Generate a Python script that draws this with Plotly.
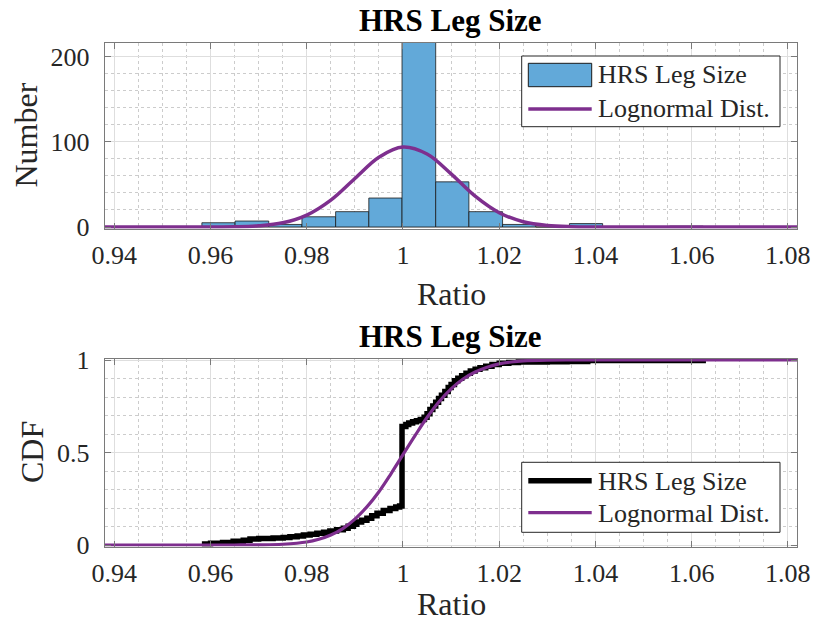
import plotly.graph_objects as go

# ---------------- data ----------------
bin_edges = [0.9582, 0.9651, 0.9721, 0.9790, 0.9860, 0.9929, 0.9998, 1.0068,
             1.0137, 1.0207, 1.0276, 1.0346, 1.0415, 1.0485, 1.0554, 1.0624]
bin_counts = [5, 7, 3, 12, 18, 34, 225, 53, 18, 3, 0, 4, 0, 0, 1]

pdf_x = [0.938, 0.945, 0.950, 0.955, 0.960, 0.965, 0.970, 0.975, 0.980, 0.985,
         0.990, 0.995, 1.000, 1.005, 1.010, 1.015, 1.020, 1.025, 1.030, 1.035,
         1.040, 1.045, 1.050, 1.060, 1.070, 1.0819]
pdf_y = [0, 0, 0, 0, 0.05, 0.3, 1.4, 4.9, 14.0, 31.6,
         57.0, 82.0, 93.9, 85.7, 62.4, 36.2, 16.8, 6.2, 1.8, 0.4,
         0.1, 0, 0, 0, 0, 0]

ecdf_x = [0.9582, 0.9600, 0.9625, 0.9647, 0.9668, 0.9682, 0.9700, 0.9730, 0.9751,
          0.9765, 0.9780, 0.9793, 0.9807, 0.9821, 0.9835, 0.9848, 0.9862, 0.9876,
          0.9886, 0.9897, 0.9904, 0.9914, 0.9925, 0.9935, 0.9946, 0.9959, 0.9973,
          0.9985, 0.9993, 0.9998, 1.0006, 1.0012, 1.0020, 1.0028, 1.0036, 1.0044,
          1.0050, 1.0056, 1.0062, 1.0068, 1.0074, 1.0080, 1.0087, 1.0094, 1.0100,
          1.0107, 1.0114, 1.0122, 1.0131, 1.0140, 1.0150, 1.0160, 1.0172, 1.0185,
          1.0200, 1.0220, 1.0240, 1.0300, 1.0341, 1.0384, 1.0624]
ecdf_y = [0.005, 0.010, 0.014, 0.020, 0.026, 0.032, 0.035, 0.038, 0.041,
          0.045, 0.049, 0.054, 0.058, 0.063, 0.069, 0.076, 0.083, 0.091,
          0.101, 0.112, 0.124, 0.134, 0.145, 0.158, 0.171, 0.186, 0.197,
          0.205, 0.211, 0.640, 0.652, 0.660, 0.666, 0.671, 0.678, 0.690,
          0.710, 0.732, 0.752, 0.772, 0.792, 0.810, 0.830, 0.852, 0.868,
          0.888, 0.902, 0.915, 0.928, 0.940, 0.950, 0.958, 0.966, 0.975,
          0.983, 0.987, 0.989, 0.990, 0.992, 0.997, 1.000]

lcdf_x = [0.938, 0.950, 0.960, 0.965, 0.970, 0.975, 0.980, 0.9825, 0.985, 0.9875,
          0.990, 0.9925, 0.995, 0.9975, 1.000, 1.0025, 1.005, 1.0075, 1.010,
          1.0125, 1.015, 1.0175, 1.020, 1.0225, 1.025, 1.030, 1.035, 1.045, 1.0819]
lcdf_y = [0, 0, 0, 0.0001, 0.0007, 0.004, 0.016, 0.031, 0.054, 0.089,
          0.140, 0.206, 0.288, 0.385, 0.488, 0.591, 0.689, 0.774, 0.844,
          0.897, 0.935, 0.961, 0.979, 0.989, 0.995, 0.999, 1.0, 1.0, 1.0]

x_tick_vals = [0.94, 0.96, 0.98, 1.0, 1.02, 1.04, 1.06, 1.08]
x_tick_text = ['0.94', '0.96', '0.98', '1', '1.02', '1.04', '1.06', '1.08']
y1_tick_vals = [0, 100, 200]
y1_tick_text = ['0', '100', '200']
y2_tick_vals = [0, 0.5, 1]
y2_tick_text = ['0', '0.5', '1']

title_text = 'HRS Leg Size'
series_names = ['HRS Leg Size', 'Lognormal Dist.']

# ---------------- styling ----------------
W, H = 814, 627
FONT = 'Liberation Serif'
BAR = '#62a9d9'
PURPLE = '#7E2F8E'
AXC = '#7a7a7a'
TXT = '#262626'


def px(x):
    return x / W


def py(y):
    return 1 - y / H


fig = go.Figure()

widths = [bin_edges[i + 1] - bin_edges[i] for i in range(len(bin_counts))]
fig.add_trace(go.Bar(x=bin_edges[:-1], y=bin_counts, width=widths, offset=0,
                     marker=dict(color=BAR, line=dict(color='#1a1a1a', width=0.8)),
                     name=series_names[0], showlegend=False, xaxis='x', yaxis='y'))
fig.add_trace(go.Scatter(x=pdf_x, y=pdf_y, mode='lines',
                         line=dict(color=PURPLE, width=3.5, shape='spline', smoothing=1.0),
                         name=series_names[1], showlegend=False, xaxis='x', yaxis='y'))
fig.add_trace(go.Scatter(x=ecdf_x, y=ecdf_y, mode='lines',
                         line=dict(color='black', width=5.5, shape='hv'),
                         name=series_names[0], showlegend=False, xaxis='x2', yaxis='y2'))
fig.add_trace(go.Scatter(x=lcdf_x, y=lcdf_y, mode='lines',
                         line=dict(color=PURPLE, width=3.2, shape='spline', smoothing=1.0),
                         name=series_names[1], showlegend=False, xaxis='x2', yaxis='y2'))

tickfont = dict(family=FONT, size=26, color=TXT)


def xaxis_cfg(anchor):
    return dict(range=[0.938, 1.0819], domain=[px(104.7), px(797)], anchor=anchor,
                tickmode='array', tickvals=x_tick_vals, ticktext=x_tick_text,
                ticks='inside', ticklen=6, tickcolor=AXC, tickwidth=1,
                showline=True, linecolor=AXC, linewidth=1, mirror='allticks',
                showgrid=True, gridcolor='#dedede', gridwidth=1, zeroline=False,
                minor=dict(tick0=0.94, dtick=0.005, showgrid=True, gridcolor='#cccccc',
                           griddash='dot', gridwidth=1),
                tickfont=tickfont, ticklabelstandoff=3, automargin=False)


def yaxis_cfg(anchor, rng, dom, vals, text, mdt):
    return dict(range=rng, domain=dom, anchor=anchor,
                tickmode='array', tickvals=vals, ticktext=text,
                ticks='inside', ticklen=6, tickcolor=AXC, tickwidth=1,
                showline=True, linecolor=AXC, linewidth=1, mirror='allticks',
                showgrid=True, gridcolor='#dedede', gridwidth=1, zeroline=False,
                minor=dict(tick0=0, dtick=mdt, showgrid=True, gridcolor='#cccccc',
                           griddash='dot', gridwidth=1),
                tickfont=tickfont, ticklabelstandoff=9, automargin=False)


fig.update_layout(
    width=W, height=H, autosize=False,
    margin=dict(l=0, r=0, t=0, b=0, pad=0, autoexpand=False),
    paper_bgcolor='white', plot_bgcolor='white',
    showlegend=False,
    xaxis=xaxis_cfg('y'),
    yaxis=yaxis_cfg('x', [-1.76, 216], [py(228.5), py(43)], y1_tick_vals, y1_tick_text, 20),
    xaxis2=xaxis_cfg('y2'),
    yaxis2=yaxis_cfg('x2', [-0.0081, 1.0081], [py(546.5), py(358.5)], y2_tick_vals, y2_tick_text, 0.1),
)

ann = []


def text(x, y, s, size, xanchor='center', angle=0, bold=False):
    ann.append(dict(x=px(x), y=py(y), xref='paper', yref='paper', text=('<b>%s</b>' % s) if bold else s,
                    showarrow=False, xanchor=xanchor, yanchor='middle', textangle=angle,
                    borderpad=0, font=dict(family=FONT, size=size, color='black' if bold else TXT)))


# titles
text(450.8, 20, title_text, 31, bold=True)
text(450.8, 336, title_text, 31, bold=True)
# axis labels
text(451, 294, 'Ratio', 32)
text(451, 604, 'Ratio', 32)
text(25.5, 135, 'Number', 32, angle=-90)
text(31.5, 452.5, 'CDF', 32, angle=-90)

# legends (drawn manually to match the MATLAB legend look)
shapes = []


def rect(x0, y0, x1, y1, fill, line, lw):
    shapes.append(dict(type='rect', xref='paper', yref='paper', x0=px(x0), x1=px(x1),
                       y0=py(y1), y1=py(y0), fillcolor=fill, line=dict(color=line, width=lw),
                       layer='above'))


def seg(x0, x1, y, color, lw):
    shapes.append(dict(type='line', xref='paper', yref='paper', x0=px(x0), x1=px(x1),
                       y0=py(y), y1=py(y), line=dict(color=color, width=lw), layer='above'))


rect(521.7, 56, 780, 126.7, 'white', '#262626', 1)
rect(528.3, 63.3, 591.7, 86.7, BAR, '#1a1a1a', 1)
seg(528.3, 591.7, 109, PURPLE, 3.5)
text(597, 75, series_names[0], 26, xanchor='left')
text(597, 108, series_names[1], 26, xanchor='left')

rect(521.7, 462.3, 780, 532.3, 'white', '#262626', 1)
seg(528.3, 591.7, 480.7, 'black', 5.5)
seg(528.3, 591.7, 512.7, PURPLE, 3.2)
text(597, 481.5, series_names[0], 26, xanchor='left')
text(597, 513, series_names[1], 26, xanchor='left')

fig.update_layout(annotations=ann, shapes=shapes)
fig.write_html('out.html')
